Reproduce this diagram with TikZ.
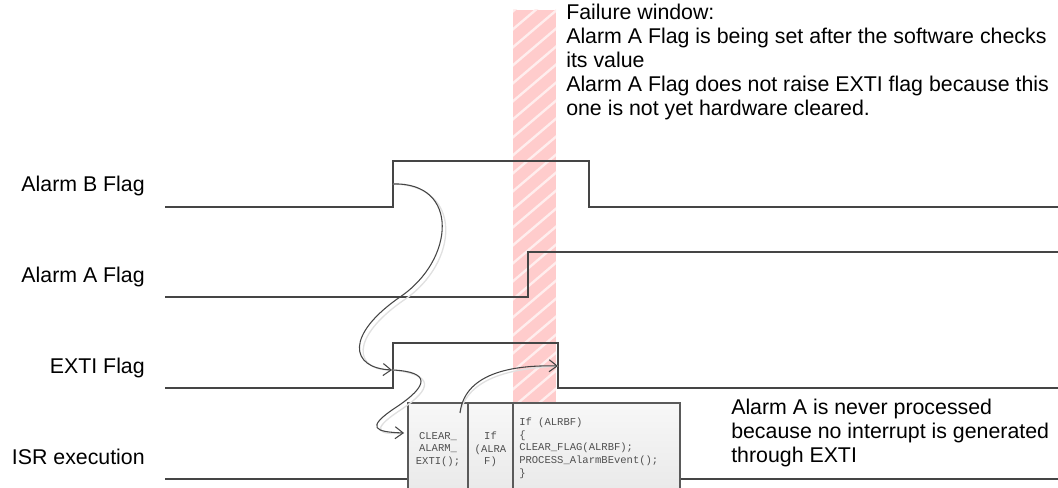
\documentclass[tikz,border=0pt]{standalone}
\usepackage{fontspec}
\setmainfont{Liberation Sans}
\setmonofont{Liberation Mono}
\usetikzlibrary{arrows.meta}
\definecolor{sig}{HTML}{454545}
\definecolor{band}{HTML}{FFCCCC}
\definecolor{stripe}{HTML}{FFEEEE}
\definecolor{shadowc}{HTML}{E0E0E0}
\definecolor{boxline}{HTML}{5A5A5A}
\definecolor{codec}{HTML}{505050}
\begin{document}
\begin{tikzpicture}[x=0.75pt,y=-0.75pt,
  signal/.style={draw=sig, line width=1.5pt, line join=miter},
  lbl/.style={font=\fontsize{16}{18.1}\selectfont, inner sep=0pt, anchor=base east},
  note/.style={font=\fontsize{16}{18.1}\selectfont, inner sep=0pt, align=left, anchor=base west},
  code/.style={font=\ttfamily\fontsize{7.9}{9.4}\selectfont, inner sep=0pt, text=codec},
  link/.style={draw=sig, line width=0.8pt, -{Straight Barb[length=6pt,width=9pt]}},
  linkshadow/.style={draw=shadowc, line width=1pt},
  colbox/.style={draw=boxline, line width=1.1pt, top color=white!97!black, bottom color=white!91!black}]
\useasboundingbox (0,0) rectangle (1058,488);
\clip (0,0) rectangle (1058,488);

% failure window band
\begin{scope}
  \clip (513,10) rectangle (556,403);
  \fill[band] (513,10) rectangle (556,403);
  \foreach \k in {0,...,28} {
    \draw[stripe, line width=1.8pt] (505,{\k*18}) -- (565,{\k*18-51});
  }
\end{scope}

% signals
\draw[signal] (165,207) -- (393,207) -- (393,161.5) -- (589,161.5) -- (589,207) -- (1058,207);
\draw[signal] (165,297) -- (528,297) -- (528,252.5) -- (1058,252.5);
\draw[signal] (165,388) -- (393,388) -- (393,343.5) -- (558,343.5) -- (558,388) -- (1058,388);
\draw[signal] (165,479) -- (1058,479);

% labels
\node[lbl] (lblB) at (145,192) {Alarm B Flag};
\node[lbl] (lblA) at (145,283) {Alarm A Flag};
\node[lbl] (lblE) at (145,373.5) {EXTI Flag};
\node[lbl] (lblI) at (145,464.5) {ISR execution};

% multi-line nodes: base anchor is the baseline of the last line
\node[note] (fail) at (566,116) {Failure window:\\
Alarm A Flag is being set after the software checks\\
its value\\
Alarm A Flag does not raise EXTI flag because this\\
one is not yet hardware cleared.};

\node[note] (never) at (731,463) {Alarm A is never processed\\
because no interrupt is generated\\
through EXTI};

% ISR box
\draw[colbox] (408,403) rectangle (468,500);
\draw[colbox] (468,403) rectangle (513,500);
\draw[colbox] (513,403) rectangle (680,500);
\draw[boxline, line width=1.6pt] (468,403) -- (468,490);

\node[code, align=center] (c1) at (438,449.5) {CLEAR\_\\ALARM\_\\EXTI();};
\node[code, align=center] (c2) at (490.5,449.5) {If\\(ALRA\\F)};
\node[code, align=left, anchor=north west] (c3) at (519,418) {If (ALRBF)\\\{\\CLEAR\_FLAG(ALRBF);\\PROCESS\_AlarmBEvent();\\\}};

% connector end points
\coordinate (bRise) at (393,184);
\coordinate (eRise) at (392,370);
\coordinate (eRiseOut) at (393,370);
\coordinate (isrIn) at (404,433);
\coordinate (isrOut) at (460,413);
\coordinate (eFall) at (558,366);

% shadows
\begin{scope}[shift={(4,3)}]
\draw[linkshadow] (bRise) .. controls (460,182) and (455,260) .. (400,297) .. controls (345,335) and (350,368) .. (eRise);
\draw[linkshadow] (eRiseOut) .. controls (430,372) and (430,385) .. (395,408) .. controls (365,428) and (375,432) .. (isrIn);
\draw[linkshadow] (isrOut) .. controls (465,370) and (520,365) .. (eFall);
\end{scope}

% connectors
\draw[link] (bRise) .. controls (460,182) and (455,260) .. (400,297) .. controls (345,335) and (350,368) .. (eRise);
\draw[link] (eRiseOut) .. controls (430,372) and (430,385) .. (395,408) .. controls (365,428) and (375,432) .. (isrIn);
\draw[link] (isrOut) .. controls (465,370) and (520,365) .. (eFall);
\end{tikzpicture}
\end{document}
